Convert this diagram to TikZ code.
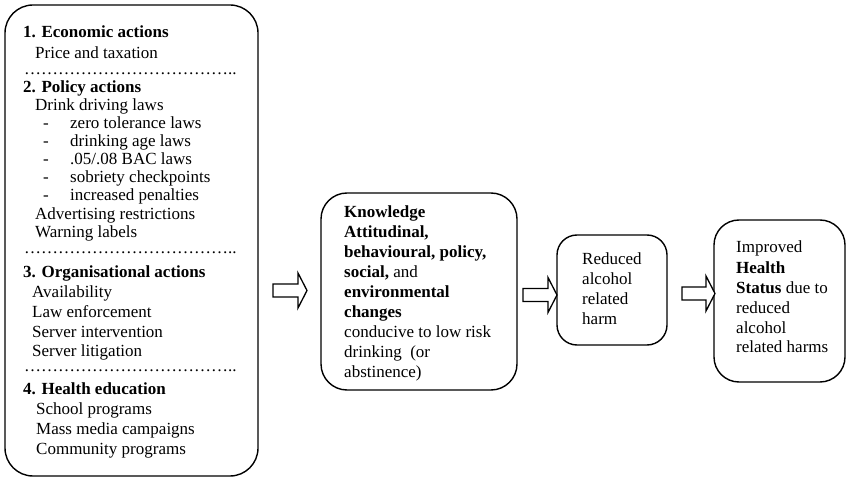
\documentclass[tikz,border=0pt]{standalone}
\usepackage{fontspec}
\setmainfont{Liberation Serif}
\newcommand\Tl[4]{\node[txt] (#1) at (#2,#3) {#4};}
\newcommand\Ell{…}
\newcommand\DotRow{\Ell\Ell\Ell\Ell\Ell\Ell\Ell\Ell\Ell\Ell\Ell\Ell..}
\newcommand\BlockArrow[5]{% x0, xh, xt, yc, name
  \draw[blk] (#1,#4-6.5) -- (#2,#4-6.5) -- (#2,#4-17.5) -- (#3,#4)
    -- (#2,#4+17.5) -- (#2,#4+6.5) -- (#1,#4+6.5) -- cycle;
  \coordinate (#5) at (#3,#4);}
\begin{document}
\begin{tikzpicture}[x=1pt,y=-1pt,
  box/.style={draw, line width=1.4pt, inner sep=0pt, rounded corners=#1},
  txt/.style={anchor=base west, inner sep=0pt, font=\fontsize{17}{20}\selectfont},
  blk/.style={draw, line width=1.3pt, fill=white, line join=miter}]
\useasboundingbox (0,0) rectangle (847,478);
% boxes
\node[box=28pt, minimum width=253pt, minimum height=471pt] (act) at (131.5,240.5) {};
\node[box=26pt, minimum width=196pt, minimum height=197pt] (know) at (419,291.5) {};
\node[box=20pt, minimum width=110pt, minimum height=110pt] (harm) at (612,290) {};
\node[box=25pt, minimum width=131pt, minimum height=162pt] (health) at (779.5,301) {};
% left box text
\Tl{e1}{23}{38}{\textbf{1. Economic actions}}
\Tl{e2}{35}{59}{Price and taxation}
\Tl{d1}{24}{75}{\DotRow}
\Tl{p1}{23}{93}{\textbf{2. Policy actions}}
\Tl{p2}{35}{111}{Drink driving laws}
\Tl{p3a}{43}{129}{-}\Tl{p3}{70}{129}{zero tolerance laws}
\Tl{p4a}{43}{147}{-}\Tl{p4}{70}{147}{drinking age laws}
\Tl{p5a}{43}{165}{-}\Tl{p5}{70}{165}{.05/.08 BAC laws}
\Tl{p6a}{43}{183}{-}\Tl{p6}{70}{183}{sobriety checkpoints}
\Tl{p7a}{43}{201}{-}\Tl{p7}{70}{201}{increased penalties}
\Tl{p8}{35}{220}{Advertising restrictions}
\Tl{p9}{35}{238}{Warning labels}
\Tl{d2}{24}{254}{\DotRow}
\Tl{o1}{23}{278}{\textbf{3. Organisational actions}}
\Tl{o2}{32}{298}{Availability}
\Tl{o3}{32}{318}{Law enforcement}
\Tl{o4}{32}{338}{Server intervention}
\Tl{o5}{32}{357}{Server litigation}
\Tl{d3}{24}{372}{\DotRow}
\Tl{h1}{23}{395}{\textbf{4. Health education}}
\Tl{h2}{36}{415}{School programs}
\Tl{h3}{36}{435}{Mass media campaigns}
\Tl{h4}{36}{455}{Community programs}
% middle box text
\Tl{k1}{344}{218}{\textbf{Knowledge}}
\Tl{k2}{344}{238}{\textbf{Attitudinal,}}
\Tl{k3}{344}{258}{\textbf{behavioural, policy,}}
\Tl{k4}{344}{278}{\textbf{social,} and}
\Tl{k5}{344}{298}{\textbf{environmental}}
\Tl{k6}{344}{318}{\textbf{changes}}
\Tl{k7}{344}{338}{conducive to low risk}
\Tl{k8}{344}{358}{drinking\ \ (or}
\Tl{k9}{344}{378}{abstinence)}
% reduced harm text
\Tl{r1}{582}{265}{Reduced}
\Tl{r2}{582}{285}{alcohol}
\Tl{r3}{582}{305}{related}
\Tl{r4}{582}{325}{harm}
% improved health text
\Tl{s1}{736}{253}{Improved}
\Tl{s2}{736}{274}{\textbf{Health}}
\Tl{s3}{736}{294}{\textbf{Status} due to}
\Tl{s4}{736}{314}{reduced}
\Tl{s5}{736}{334}{alcohol}
\Tl{s6}{736}{353}{related harms}
% block arrows
\BlockArrow{273}{298}{307}{290.5}{tip1}
\BlockArrow{523}{548}{557}{295}{tip2}
\BlockArrow{682}{706}{715}{293.5}{tip3}
\end{tikzpicture}
\end{document}
